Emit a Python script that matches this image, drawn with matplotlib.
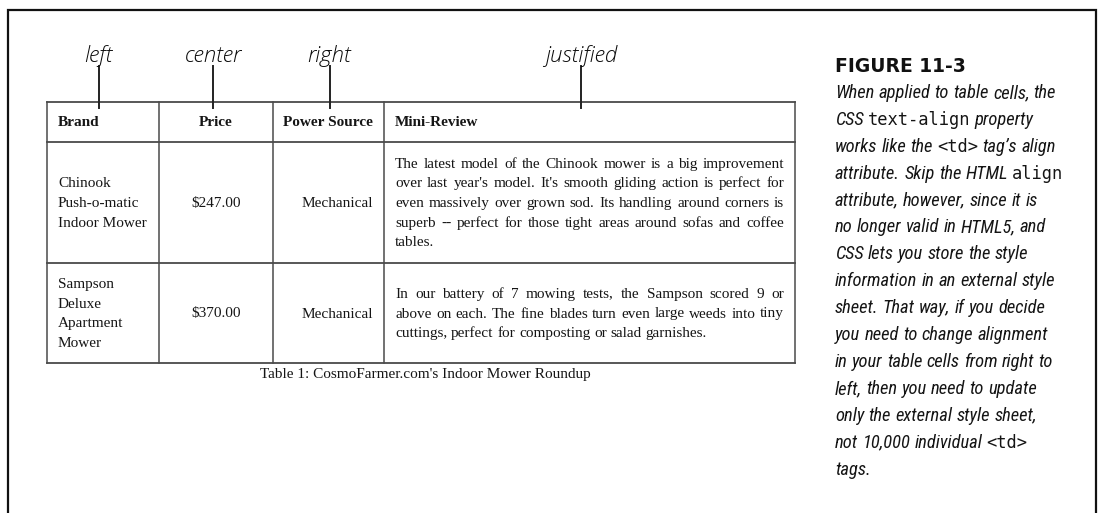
# Book figure: a table showing the four text alignments, with a side caption

import matplotlib
matplotlib.use('Agg')
import matplotlib.pyplot as plt
from matplotlib.font_manager import FontProperties, fontManager

# ---- content ----
align_labels = ["left", "center", "right", "justified"]
headers = ["Brand", "Price", "Power Source", "Mini-Review"]
brands = [["Chinook", "Push-o-matic", "Indoor Mower"],
          ["Sampson", "Deluxe", "Apartment", "Mower"]]
prices = ["$247.00", "$370.00"]
power = ["Mechanical", "Mechanical"]
reviews = [
    ["The latest model of the Chinook mower is a big improvement",
     "over last year's model. It's smooth gliding action is perfect for",
     "even massively over grown sod. Its handling around corners is",
     "superb -- perfect for those tight areas around sofas and coffee",
     "tables."],
    ["In our battery of 7 mowing tests, the Sampson scored 9 or",
     "above on each. The fine blades turn even large weeds into tiny",
     "cuttings, perfect for composting or salad garnishes."],
]
table_caption = "Table 1: CosmoFarmer.com's Indoor Mower Roundup"
figure_label = "FIGURE 11-3"
# words between backticks are set in a monospace font
figure_caption = [
    "When applied to table cells, the",
    "CSS `text-align` property",
    "works like the `<td>` tag’s align",
    "attribute. Skip the HTML `align`",
    "attribute, however, since it is",
    "no longer valid in HTML5, and",
    "CSS lets you store the style",
    "information in an external style",
    "sheet. That way, if you decide",
    "you need to change alignment",
    "in your table cells from right to",
    "left, then you need to update",
    "only the external style sheet,",
    "not 10,000 individual `<td>`",
    "tags.",
]

# ---- layout (pixels) ----
W, H = 1099, 513
col_x = [47, 159, 273, 384, 795]
row_y = [101.5, 142, 263, 363]
pad = 11
label_x = [98.5, 213, 329.5, 581]
line_h = 19.6

installed = {f.name for f in fontManager.ttflist}


def pick(*names):
    for n in names:
        if n in installed:
            return n
    return 'DejaVu Sans'


serif = pick('Liberation Serif', 'DejaVu Serif')
mono = pick('DejaVu Sans Mono', 'Liberation Mono')

fp_cell = FontProperties(family=serif, size=11)
fp_head = FontProperties(family=serif, size=11, weight='bold')
fp_lab = FontProperties(family=pick('Open Sans', 'Lato', 'DejaVu Sans'), size=16,
                        style='italic', weight='light')
fp_fig = FontProperties(family='DejaVu Sans', size=13.5, weight='bold')
fp_mono = FontProperties(family=mono, size=12.3)

ink = '#151515'
grid = '#4a4a4a'

fig = plt.figure(figsize=(W / 100, H / 100), dpi=100)
ax = fig.add_axes([0, 0, 1, 1])
ax.set_xlim(0, W)
ax.set_ylim(H, 0)
ax.axis('off')
renderer = fig.canvas.get_renderer()


def tw(s, fp):
    return renderer.get_text_width_height_descent(s, fp, ismath=False)[0]


def put(x, y, s, fp, ha='left', color=ink):
    ax.text(x, y, s, fontproperties=fp, ha=ha, va='baseline', color=color)


# narrowest installed italic sans, sized so the first caption line is ~223 px
best = None
for name in ['Liberation Sans Narrow', 'Roboto Condensed', 'Open Sans Condensed',
             'Roboto', 'Lato', 'Liberation Sans', 'Noto Sans', 'Inter']:
    if name in installed:
        fp = FontProperties(family=name, size=14, style='italic')
        size = 14 * 223 / tw(figure_caption[0], fp)
        if best is None or size > best[1]:
            best = (name, size)
fp_cap = FontProperties(family=best[0], size=min(best[1], 14.5), style='italic')

# outer page frame (open at the bottom)
ax.plot([7.5, 7.5, 1096, 1096], [H, 9.5, 9.5, H], color='#111111', lw=1.6,
        solid_joinstyle='miter')

# table grid
for x in col_x:
    ax.plot([x, x], [row_y[0], row_y[-1]], color=grid, lw=1.1)
for y in row_y:
    ax.plot([col_x[0], col_x[-1]], [y, y], color=grid, lw=1.3)

# alignment labels with their pointers
for x, lab in zip(label_x, align_labels):
    put(x, 62, lab, fp_lab, ha='center', color='#0a0a0a')
    ax.plot([x, x], [66, 108], color='#222222', lw=1.4)

# header row
hy = (row_y[0] + row_y[1]) / 2 + 4.5
put(col_x[0] + pad, hy, headers[0], fp_head)
put((col_x[1] + col_x[2]) / 2, hy, headers[1], fp_head, ha='center')
put(col_x[3] - pad, hy, headers[2], fp_head, ha='right')
put(col_x[3] + pad, hy, headers[3], fp_head)

space = tw("x x", fp_cell) - tw("xx", fp_cell)

for r in range(2):
    yc = (row_y[r + 1] + row_y[r + 2]) / 2 + 4.5
    lines = brands[r]
    for i, s in enumerate(lines):
        put(col_x[0] + pad, yc + (i - (len(lines) - 1) / 2) * line_h, s, fp_cell)
    put((col_x[1] + col_x[2]) / 2, yc, prices[r], fp_cell, ha='center')
    put(col_x[3] - pad, yc, power[r], fp_cell, ha='right')
    # justified review text
    x0, x1 = col_x[3] + pad, col_x[4] - pad
    lines = reviews[r]
    for i, s in enumerate(lines):
        y = yc + (i - (len(lines) - 1) / 2) * line_h
        words = s.split()
        widths = [tw(w, fp_cell) for w in words]
        if i < len(lines) - 1 and len(words) > 1:
            gap = (x1 - x0 - sum(widths)) / (len(words) - 1)
        else:
            gap = space
        x = x0
        for w, wd in zip(words, widths):
            put(x, y, w, fp_cell)
            x += wd + gap

put(425, 378, table_caption, fp_cell, ha='center')

# side caption
cx = 835
put(cx, 71.5, figure_label, fp_fig, color='#111111')
cap_space = tw("x x", fp_cap) - tw("xx", fp_cap)
for i, s in enumerate(figure_caption):
    y = 92 + i * 26.9 + 6
    x = cx
    for w in s.split(' '):
        if w.startswith('`'):
            w = w.strip('`')
            fp = fp_mono
        else:
            fp = fp_cap
        put(x, y, w, fp)
        x += tw(w, fp) + cap_space

fig.savefig('out.png', dpi=100, facecolor='white')
